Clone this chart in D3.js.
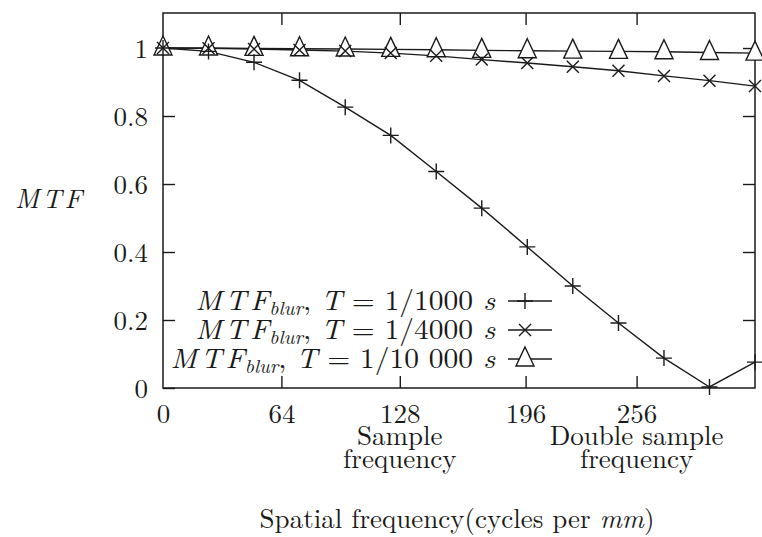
<!DOCTYPE html>
<html><head><meta charset="utf-8">
<script src="https://cdn.jsdelivr.net/npm/d3@7"></script>
<style>body{margin:0;background:#fff}</style></head>
<body><svg id="c" width="762" height="537"></svg>
<script>
const freq = [0, 24.6, 49.2, 73.8, 98.5, 123.1, 147.7, 172.3, 196.9, 221.5, 246.2, 270.8, 295.4, 320];
const mtf1000 = [1.0, 0.99, 0.958, 0.905, 0.826, 0.743, 0.637, 0.529, 0.415, 0.300, 0.191, 0.088, 0.003, 0.076];
const mtf4000 = [1.0, 0.999, 0.997, 0.994, 0.991, 0.985, 0.977, 0.966, 0.956, 0.945, 0.933, 0.918, 0.904, 0.888];
const mtf10000 = [1.0, 1.0, 0.999, 0.998, 0.997, 0.996, 0.995, 0.993, 0.992, 0.991, 0.99, 0.989, 0.987, 0.985];
const xTicks = [64, 128, 196, 256];
const yTicks = [0, 0.2, 0.4, 0.6, 0.8, 1];
const yTickLabels = ["0", "0.2", "0.4", "0.6", "0.8", "1"];
const periods = ["1/1000", "1/4000", "1/10 000"];
const markerTypes = ["plus", "cross", "triangle"];

const FF = "'Latin Modern Roman', 'Liberation Serif', serif";
const svg = d3.select("#c").attr("font-family", FF);
const L = 163, R = 755, T = 13, B = 388;
const x = d3.scaleLinear().domain([0, 320]).range([L, R]);
const y = d3.scaleLinear().domain([0, 1.103]).range([B, T]);
const ink = "#1a1a1a";

// axes (inward ticks)
const gl = svg.append("g").attr("transform", `translate(${L},0)`)
  .call(d3.axisLeft(y).tickValues(yTicks).tickFormat((d, i) => yTickLabels[i]).tickSize(-12).tickPadding(15));
const gr = svg.append("g").attr("transform", `translate(${R},0)`)
  .call(d3.axisRight(y).tickValues(yTicks.slice(1)).tickFormat("").tickSize(-12));
const gb = svg.append("g").attr("transform", `translate(0,${B})`)
  .call(d3.axisBottom(x).tickValues([0].concat(xTicks)).tickFormat(d3.format("d")).tickSize(-12).tickPadding(16));
const gt = svg.append("g").attr("transform", `translate(0,${T})`)
  .call(d3.axisTop(x).tickValues(xTicks).tickFormat("").tickSize(-12));
[gl, gr, gb, gt].forEach(g => {
  g.attr("font-family", FF).attr("font-size", 27);
  g.select(".domain").remove();
  g.selectAll("line").attr("stroke", ink).attr("stroke-width", 1.4);
  g.selectAll("text").attr("fill", ink);
});
gl.selectAll("text").attr("dy", "0.34em");
gb.selectAll("text").attr("dy", 0).attr("y", 423 - B);
gb.selectAll(".tick").filter(d => d === 0).select("line").remove();

svg.append("rect").attr("x", L).attr("y", T).attr("width", R - L).attr("height", B - T)
  .attr("fill", "none").attr("stroke", ink).attr("stroke-width", 1.5);

// extra x labels
const extra = [[128, "Sample", 0], [128, "frequency", 1], [256, "Double sample", 0], [256, "frequency", 1]];
svg.selectAll("text.ex").data(extra).join("text").attr("class", "ex")
  .attr("x", d => x(d[0])).attr("y", d => 445 + d[2] * 23).attr("fill", ink)
  .attr("text-anchor", "middle").attr("font-size", 27).text(d => d[1]);

// y label
svg.append("text").attr("x", 50).attr("y", 208).attr("text-anchor", "middle").attr("fill", ink)
  .attr("font-size", 27).attr("font-style", "italic").attr("letter-spacing", 3).text("MTF");

// x title
const xt = svg.append("text").attr("x", 457).attr("y", 528).attr("text-anchor", "middle").attr("font-size", 27).attr("fill", ink);
xt.append("tspan").text("Spatial frequency(cycles per ");
xt.append("tspan").attr("font-style", "italic").text("mm");
xt.append("tspan").text(")");

// markers
function marker(g, type, cx, cy) {
  if (type === "plus") {
    g.append("path").attr("d", `M${cx - 8},${cy}H${cx + 8}M${cx},${cy - 8}V${cy + 8}`);
  } else if (type === "cross") {
    g.append("path").attr("d", `M${cx - 6},${cy - 6}L${cx + 6},${cy + 6}M${cx - 6},${cy + 6}L${cx + 6},${cy - 6}`);
  } else {
    g.append("path").attr("d", `M${cx},${cy - 12}L${cx + 9},${cy + 7}L${cx - 9},${cy + 7}Z`).attr("fill", "#fff");
  }
}

const series = [mtf1000, mtf4000, mtf10000];
const line = d3.line().x(d => x(d[0])).y(d => y(d[1]));
const order = [2, 1, 0];
order.forEach(si => {
  const pts = freq.map((f, i) => [f, series[si][i]]);
  svg.append("path").attr("d", line(pts)).attr("fill", "none").attr("stroke", ink).attr("stroke-width", 1.4);
});
order.forEach(si => {
  const g = svg.append("g").attr("fill", "none").attr("stroke", ink).attr("stroke-width", 1.4);
  freq.forEach((f, i) => marker(g, markerTypes[si], x(f), y(series[si][i])));
});

// legend (text stretched horizontally like the reference)
const legY = [301, 330, 359];
const legTexts = periods.map((p, i) => {
  const t = svg.append("text").attr("text-anchor", "end").attr("font-size", 28).attr("fill", ink);
  t.append("tspan").attr("font-style", "italic").attr("letter-spacing", 3.5).text("MT");
  t.append("tspan").attr("font-style", "italic").text("F");
  t.append("tspan").attr("font-style", "italic").attr("font-size", 19).attr("dy", 5).text("blur");
  t.append("tspan").attr("dy", -5).text(", ");
  t.append("tspan").attr("font-style", "italic").text("T");
  t.append("tspan").text(" = " + p + " ");
  t.append("tspan").attr("font-style", "italic").text("s");
  const g = svg.append("g").attr("fill", "none").attr("stroke", ink).attr("stroke-width", 1.4);
  g.append("line").attr("x1", 508).attr("x2", 552).attr("y1", legY[i]).attr("y2", legY[i]);
  marker(g, markerTypes[i], 525, legY[i]);
  return t;
});
const k = 300 / legTexts[0].node().getComputedTextLength();
legTexts.forEach((t, i) => t.attr("transform", `translate(495,${legY[i] + 9}) scale(${k},1)`));
</script></body></html>
